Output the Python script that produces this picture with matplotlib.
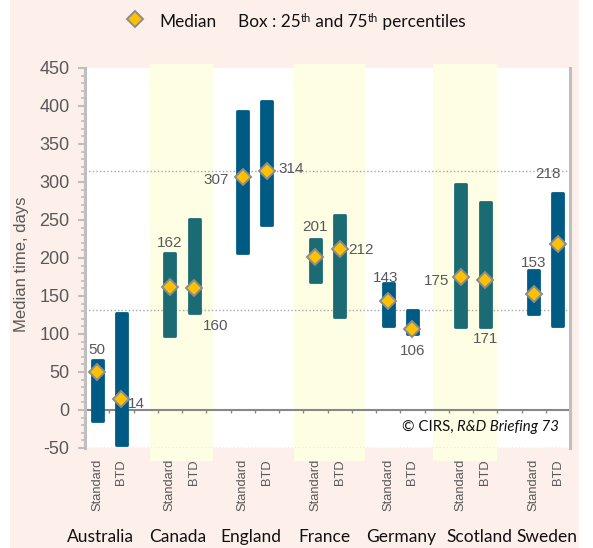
import matplotlib
matplotlib.use('Agg')
import matplotlib.pyplot as plt
import numpy as np
from matplotlib.lines import Line2D
from matplotlib.patches import Rectangle
from matplotlib.ticker import MultipleLocator, FixedLocator, NullFormatter

# ---------------- data ----------------
countries = ['Australia', 'Canada', 'England', 'France', 'Germany', 'Scotland', 'Sweden']
routes = ['Standard', 'BTD']
median = [50, 14, 162, 160, 307, 314, 201, 212, 143, 106, 175, 171, 153, 218]
q25 = [-14, -46, 98, 128, 206, 243, 168, 122, 110, 100, 109, 109, 126, 111]
q75 = [66, 128, 206, 251, 394, 407, 225, 256, 167, 131, 297, 274, 184, 285]
shaded = ['Canada', 'France', 'Scotland']
ref_lines = [314, 132]
yticks = list(range(-50, 451, 50))

# ---------------- style / layout ----------------
W, H = 593, 548
DPI = 100
BLUE = '#005B84'
TEAL = '#1B6B75'
GOLD = '#FFC000'
EDGE = '#8C8C8C'
BAND = '#FEFEE5'
PEACH = '#FDF0EA'
GRAY = '#595959'
AXG = '#BFBFBF'
SANS = ['Liberation Sans', 'DejaVu Sans']
CAL = ['Lato', 'DejaVu Sans']

# label offsets in pixels (dx, dy down) relative to median marker
lab_off = [(0, -22), (15, 5), (0, -44), (22, 38), (-26, 3), (24, -2), (0, -30),
           (21, 1), (-2, -23), (0, 22), (-24, 4), (0, 59), (0, -31), (-10, -70)]
band_ext = {'Canada': (2.18, 4.78), 'France': (8.12, 11.05), 'Scotland': (13.85, 16.49)}
country_x = [0.12, 3.33, 6.34, 9.38, 12.55, 15.76, 18.56]

fig = plt.figure(figsize=(W / DPI, H / DPI), dpi=DPI)
fig.patch.set_facecolor('white')
fig.add_artist(Rectangle((10 / W, 0), (579 - 10) / W, 1, transform=fig.transFigure,
                         facecolor=PEACH, edgecolor='none', zorder=-10))

ax = fig.add_axes([85 / W, 1 - 448 / H, (570 - 85) / W, (448 - 68) / H])
ax.set_facecolor('white')
ax.set_xlim(-0.5, 19.5)
ax.set_ylim(-50, 450)

xpos = []
for g, c in enumerate(countries):
    for j, r in enumerate(routes):
        xpos.append(g * 3 + j)
xpos = np.array(xpos)
colors = []
for g, c in enumerate(countries):
    for j in range(2):
        colors.append(TEAL if c in shaded else BLUE)

# bands
for c in shaded:
    l, r = band_ext[c]
    ax.add_patch(Rectangle((l, -67), r - l, 455 + 67, facecolor=BAND, edgecolor='none',
                           zorder=0.5, clip_on=False))

# reference lines
for v in ref_lines + [-50]:
    ax.axhline(v, color='#A6A6A6', lw=1.0, ls=(0, (1, 1.6)), zorder=1)

# boxes
bottoms = np.array(q25)
heights = np.array(q75) - np.array(q25)
ax.bar(xpos, heights, bottom=bottoms, width=0.46, color=colors, edgecolor=colors,
       linewidth=2.0, joinstyle='round', zorder=3)

# medians
ax.plot(xpos, median, ls='none', marker='D', markersize=7.8, markerfacecolor=GOLD,
        markeredgecolor=EDGE, markeredgewidth=1.4, zorder=5)

for x, m, (dx, dy) in zip(xpos, median, lab_off):
    ax.annotate(str(m), (x, m), xytext=(dx * 0.72, -dy * 0.72), textcoords='offset points',
                ha='center', va='center', fontsize=11, color=GRAY, family=SANS, zorder=6)

# spines
ax.spines['top'].set_visible(False)
for s in ['left', 'right']:
    ax.spines[s].set_color(AXG)
    ax.spines[s].set_linewidth(2.2)
ax.spines['bottom'].set_position(('data', 0))
ax.spines['bottom'].set_color('#878787')
ax.spines['bottom'].set_linewidth(1.5)
ax.spines['bottom'].set_zorder(2)

ax.yaxis.set_major_locator(FixedLocator(yticks))
ax.yaxis.set_minor_locator(MultipleLocator(10))
ax.tick_params(axis='y', which='major', length=5, width=1.5, color=AXG,
               labelsize=13, labelcolor=GRAY, pad=6)
ax.tick_params(axis='y', which='minor', length=3, width=1.2, color=AXG)
ax.set_yticklabels([str(v) for v in yticks])
for t in ax.get_yticklabels():
    t.set_family(SANS)

ax.xaxis.set_major_locator(FixedLocator(np.arange(0.5, 19, 1)))
ax.xaxis.set_major_formatter(NullFormatter())
ax.tick_params(axis='x', which='major', length=2.5, width=1.0, color='#878787', direction='out')

# route labels
xt = ax.get_xaxis_transform()
for x, j in zip(xpos, [j for g in range(len(countries)) for j in range(2)]):
    ax.text(x, (448 - 459) / 380, routes[j], transform=xt, rotation=90, ha='center', va='top',
            fontsize=9.3, color=GRAY, family=SANS)

# country labels
for cx, c in zip(country_x, countries):
    ax.text(cx, (448 - 537) / 380, c, transform=xt, ha='center', va='center',
            fontsize=12.5, color='#111111', family=CAL)

# y label
fig.text(22 / W, 1 - 264 / H, 'Median time, days', rotation=90, ha='center', va='center',
         fontsize=12, color=GRAY, family=SANS)

# legend
fig.add_artist(Line2D([135 / W], [1 - 19 / H], transform=fig.transFigure, ls='none', marker='D',
                      markersize=7.8, markerfacecolor=GOLD, markeredgecolor=EDGE,
                      markeredgewidth=1.4))
fig.canvas.draw()
rend = fig.canvas.get_renderer()


def seq_text(x_px, y_px, parts):
    x = x_px
    for s, fs, dy, style in parts:
        t = fig.text(x / W, 1 - (y_px - dy) / H, s, fontsize=fs, style=style, family=CAL,
                     ha='left', va='baseline', color='#111111')
        bb = t.get_window_extent(renderer=rend)
        x = bb.x1
    return x


LFS = 12.4
fig.text(159 / W, 1 - 27 / H, 'Median', fontsize=LFS, family=CAL, ha='left', va='baseline',
         color='#111111')
seq_text(238, 27, [('Box : 25', LFS, 0, 'normal'), ('th', 8, 5.5, 'normal'),
                   (' and 75', LFS, 0, 'normal'), ('th', 8, 5.5, 'normal'),
                   (' percentiles', LFS, 0, 'normal')])

# copyright
CFS = 10.8
ti = fig.text(559 / W, 1 - 427 / H, 'R&D Briefing 73', fontsize=CFS, style='italic', family=CAL,
              ha='right', va='center', color='#111111')
bb = ti.get_window_extent(renderer=rend)
fig.text(bb.x0 / W, 1 - 427 / H, '\u00a9 CIRS, ', fontsize=CFS, family=CAL, ha='right',
         va='center', color='#111111')

fig.savefig('out.png', dpi=DPI)
